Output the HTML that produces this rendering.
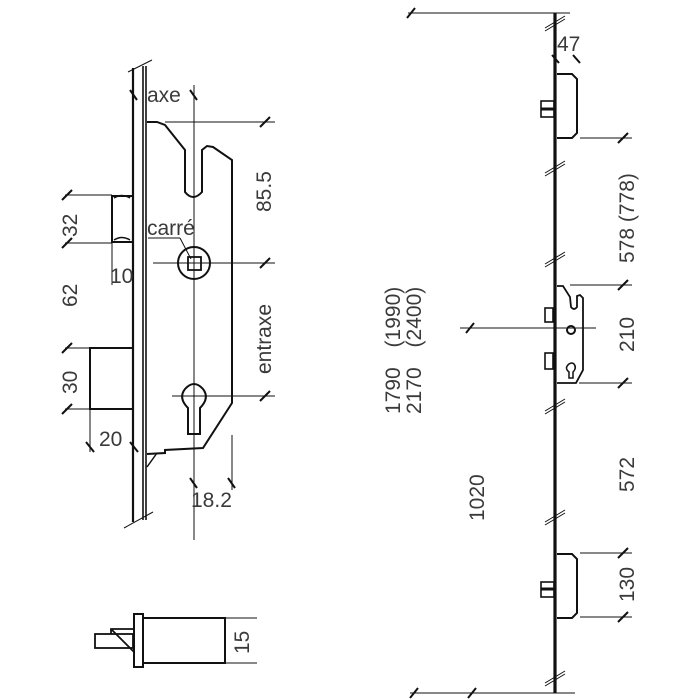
<!DOCTYPE html>
<html><head><meta charset="utf-8"><style>
html,body{margin:0;padding:0;background:#fff;width:700px;height:700px;overflow:hidden}
svg text{font-family:"Liberation Sans",sans-serif;font-size:21px;fill:#3a3a3a}
</style></head><body>
<svg width="700" height="700" viewBox="0 0 700 700" xmlns="http://www.w3.org/2000/svg">
<g fill="none" stroke="#111" stroke-width="1">
<line x1="133" y1="68" x2="133" y2="522" stroke-width="2.2"/>
<line x1="143" y1="66" x2="143" y2="520" stroke-width="1.6"/>
<line x1="146" y1="66" x2="146" y2="520" stroke-width="1.6"/>
<line x1="128" y1="72" x2="152" y2="60"/>
<line x1="124" y1="528" x2="153" y2="512"/>
<path d="M147 122 L157 122 L165 125 L185 150 L185 192 Q193 202 202 192 L202 150 L207 146 L213 147 L232 160 L232 403 L203 448 L165 450 L165 453 L147 454" stroke-width="2"/>
<line x1="147" y1="467" x2="157" y2="453" stroke-width="1.5"/>
<line x1="194" y1="85" x2="194" y2="540"/>
<line x1="165" y1="122" x2="275" y2="122"/>
<line x1="153" y1="263" x2="275" y2="263"/>
<line x1="172" y1="396" x2="275" y2="396"/>
<line x1="232" y1="435" x2="232" y2="490"/>
<circle cx="194" cy="263" r="16" stroke-width="2"/>
<rect x="188" y="257" width="13" height="13" stroke-width="1.8"/>
<line x1="148" y1="238" x2="180" y2="238"/>
<line x1="180" y1="238" x2="191" y2="259"/>
<path d="M188 434 L188 408 Q178 398 185 389 Q194 379 203 389 Q210 398 200 408 L200 434 Z" stroke-width="2"/>
<rect x="112" y="196" width="21" height="46" stroke-width="2"/>
<path d="M114 198 Q122 193 130 198 M114 240 Q122 235 130 240" stroke-width="1.5"/>
<line x1="65" y1="195" x2="112" y2="195"/>
<line x1="65" y1="243" x2="112" y2="243"/>
<line x1="112" y1="242" x2="112" y2="285"/>
<rect x="90" y="348" width="43" height="61" stroke-width="2"/>
<line x1="65" y1="348" x2="90" y2="348"/>
<line x1="65" y1="409" x2="90" y2="409"/>
<line x1="90" y1="409" x2="90" y2="452"/>
<g stroke-width="2">
<line x1="62" y1="200" x2="72" y2="190"/><line x1="62" y1="248" x2="72" y2="238"/>
<line x1="62" y1="353" x2="72" y2="343"/><line x1="62" y1="414" x2="72" y2="404"/>
<line x1="86" y1="442" x2="94" y2="452"/><line x1="130" y1="442" x2="138" y2="452"/>
<line x1="130" y1="90" x2="137" y2="100"/><line x1="190" y1="90" x2="197" y2="100"/>
<line x1="260" y1="127" x2="270" y2="117"/><line x1="260" y1="268" x2="270" y2="258"/>
<line x1="260" y1="401" x2="270" y2="391"/>
<line x1="190" y1="478" x2="197" y2="488"/><line x1="228" y1="478" x2="235" y2="488"/>
</g>
<rect x="134" y="614" width="9" height="53" stroke-width="2"/>
<rect x="143" y="618" width="82" height="45" stroke-width="2"/>
<line x1="225" y1="618" x2="257" y2="618"/><line x1="225" y1="663" x2="257" y2="663"/>
<rect x="95" y="634" width="38" height="14" stroke-width="1.8"/>
<path d="M111 634 L111 629 L134 629 M111 629 L134 652" stroke-width="1.8"/>

<line x1="555" y1="13" x2="555" y2="693" stroke-width="3.2"/>
<line x1="408" y1="13" x2="570" y2="13"/>
<line x1="410" y1="693" x2="575" y2="693"/>
<line x1="460" y1="328" x2="596" y2="328"/>
<g stroke-width="1">
<path d="M545 28 L565 16 M545 31 L565 19"/>
<path d="M545 173 L565 161 M545 176 L565 164"/>
<path d="M545 264 L565 252 M545 267 L565 255"/>
<path d="M545 411 L565 399 M545 414 L565 402"/>
<path d="M545 522 L565 510 M545 525 L565 513"/>
<path d="M545 683 L565 671 M545 686 L565 674"/>
</g>
<g stroke-width="2">
<line x1="407" y1="18" x2="415" y2="8"/>
<line x1="410" y1="698" x2="418" y2="688"/><line x1="468" y1="698" x2="476" y2="688"/>
<line x1="466" y1="333" x2="474" y2="323"/>
<line x1="552" y1="55" x2="559" y2="63"/><line x1="573" y1="55" x2="580" y2="63"/>
<line x1="618" y1="143" x2="628" y2="133"/><line x1="618" y1="290" x2="628" y2="280"/>
<line x1="618" y1="388" x2="628" y2="378"/>
<line x1="618" y1="558" x2="628" y2="548"/><line x1="618" y1="622" x2="628" y2="612"/>
</g>
<path d="M557 74 L572 74 L577 79 L577 133 L572 138 L557 138" stroke-width="2"/>
<rect x="541" y="101" width="13" height="16" stroke-width="1.6"/>
<line x1="541" y1="109" x2="554" y2="109" stroke-width="3"/>
<line x1="580" y1="138" x2="632" y2="138"/>
<path d="M557 286 L563 286 L570 297 L571 307 Q574 311 577 307 L577 296 L580 295 L583 298 L583 370 L576 383 L557 383" stroke-width="1.8"/>
<rect x="545" y="308" width="8" height="14" stroke-width="1.6"/>
<rect x="545" y="353" width="8" height="16" stroke-width="1.6"/>
<circle cx="571" cy="330" r="4" stroke-width="2"/>
<path d="M569 378 L569 372 Q564 368 569 364 Q572 362 574 364 Q577 368 573 372 L573 378 Z" stroke-width="1.5"/>
<line x1="570" y1="285" x2="632" y2="285"/>
<line x1="579" y1="383" x2="632" y2="383"/>
<path d="M557 554 L572 554 L577 559 L577 613 L572 618 L557 618" stroke-width="2"/>
<rect x="541" y="582" width="13" height="15" stroke-width="1.6"/>
<line x1="541" y1="589" x2="554" y2="589" stroke-width="3"/>
<line x1="580" y1="553" x2="632" y2="553"/>
<line x1="580" y1="617" x2="632" y2="617"/>
</g>
<text x="147" y="102">axe</text>
<text x="147" y="235">carré</text>
<text x="110" y="283">10</text>
<text x="99" y="446">20</text>
<text x="191" y="507">18.2</text>
<text transform="translate(77,237) rotate(-90)">32</text>
<text transform="translate(77,307) rotate(-90)">62</text>
<text transform="translate(77,394) rotate(-90)">30</text>
<text transform="translate(271,212) rotate(-90)">85.5</text>
<text transform="translate(271,374) rotate(-90)">entraxe</text>
<text transform="translate(249,654) rotate(-90)">15</text>
<text x="557" y="51">47</text>
<text transform="translate(400,414) rotate(-90)" style="word-spacing:14px">1790  (1990)</text>
<text transform="translate(421,414) rotate(-90)" style="word-spacing:14px">2170  (2400)</text>
<text transform="translate(484,521) rotate(-90)">1020</text>
<text transform="translate(634,263) rotate(-90)">578 (778)</text>
<text transform="translate(634,352) rotate(-90)">210</text>
<text transform="translate(634,492) rotate(-90)">572</text>
<text transform="translate(634,602) rotate(-90)">130</text>
</svg>
</body></html>
